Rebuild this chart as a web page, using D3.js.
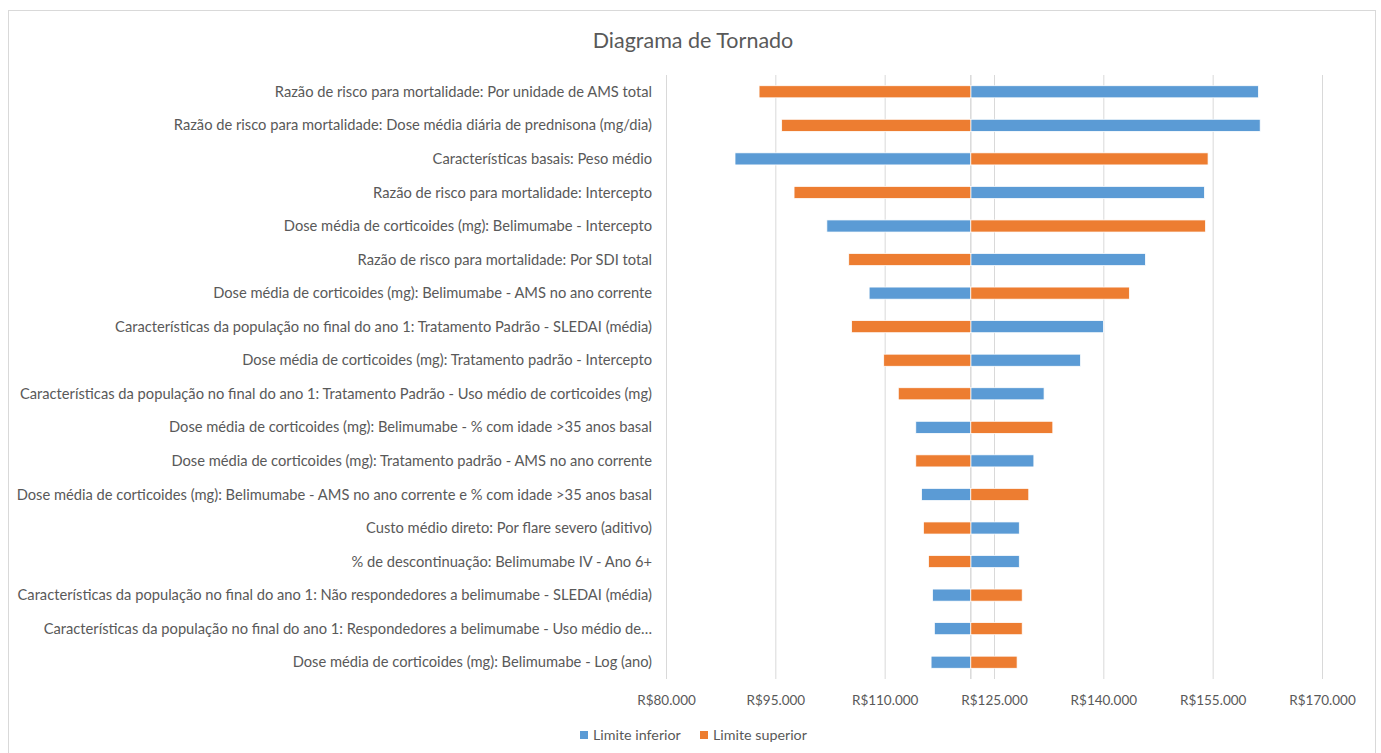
<!DOCTYPE html>
<html>
<head>
<meta charset="utf-8">
<script src="https://cdn.jsdelivr.net/npm/d3@7"></script>
<style>
  html, body { margin: 0; padding: 0; background: #fff; }
  svg { display: block; font-family: Lato, "Open Sans", sans-serif; }
</style>
</head>
<body>
<svg id="chart"></svg>
<script>
const width = 1381;
const height = 753;

// parameters (top to bottom, as drawn)
const parametros = [
  "Razão de risco para mortalidade: Por unidade de AMS total",
  "Razão de risco para mortalidade: Dose média diária de prednisona (mg/dia)",
  "Características basais: Peso médio",
  "Razão de risco para mortalidade: Intercepto",
  "Dose média de corticoides (mg): Belimumabe - Intercepto",
  "Razão de risco para mortalidade: Por SDI total",
  "Dose média de corticoides (mg): Belimumabe - AMS no ano corrente",
  "Características da população no final do ano 1: Tratamento Padrão - SLEDAI (média)",
  "Dose média de corticoides (mg): Tratamento padrão - Intercepto",
  "Características da população no final do ano 1: Tratamento Padrão - Uso médio de corticoides (mg)",
  "Dose média de corticoides (mg): Belimumabe - % com idade >35 anos basal",
  "Dose média de corticoides (mg): Tratamento padrão - AMS no ano corrente",
  "Dose média de corticoides (mg): Belimumabe - AMS no ano corrente e % com idade >35 anos basal",
  "Custo médio direto: Por flare severo (aditivo)",
  "% de descontinuação: Belimumabe IV - Ano 6+",
  "Características da população no final do ano 1: Não respondedores a belimumabe - SLEDAI (média)",
  "Características da população no final do ano 1: Respondedores a belimumabe - Uso médio de…",
  "Dose média de corticoides (mg): Belimumabe - Log (ano)"
];

// result (R$) for each parameter at its lower / upper limit
const limiteInferior = [161200, 161450, 89400, 153800, 102000, 145700, 107800, 139950, 136800,
  131800, 114200, 130400, 115000, 128400, 128400, 116500, 116750, 116300];
const limiteSuperior = [92700, 95800, 154300, 97500, 153950, 105000, 143500, 105400, 109800,
  111800, 133000, 114200, 129700, 115250, 115950, 128800, 128800, 128100];

const valorBase = 121750;
const ticks = [80000, 95000, 110000, 125000, 140000, 155000, 170000];

const series = [
  { nome: "Limite inferior", valores: limiteInferior, cor: "#5b9bd5" },
  { nome: "Limite superior", valores: limiteSuperior, cor: "#ed7d31" }
];

const svg = d3.select("#chart").attr("width", width).attr("height", height);

// chart frame
svg.append("rect")
  .attr("x", 8.5).attr("y", 10.5)
  .attr("width", 1367).attr("height", 760)
  .attr("fill", "#fff").attr("stroke", "#d9d9d9");

svg.append("text")
  .attr("x", 693).attr("y", 48)
  .attr("text-anchor", "middle")
  .attr("font-size", 21.5)
  .attr("fill", "#595959")
  .text("Diagrama de Tornado");

const x = d3.scaleLinear().domain([80000, 170000]).range([666.5, 1322.5]);
const y = d3.scaleBand().domain(parametros).range([75, 679]).paddingInner(0.64).paddingOuter(0.32);

const fmt = d => "R$" + d3.format(",")(d).replace(/,/g, ".");

// gridlines
svg.append("g")
  .selectAll("line")
  .data(ticks)
  .join("line")
  .attr("x1", d => x(d)).attr("x2", d => x(d))
  .attr("y1", 75).attr("y2", 679)
  .attr("stroke", "#d9d9d9")
  .attr("stroke-width", 1);

// tick labels
svg.append("g")
  .selectAll("text")
  .data(ticks)
  .join("text")
  .attr("x", d => x(d))
  .attr("y", 705)
  .attr("text-anchor", "middle")
  .attr("font-size", 13.5)
  .attr("fill", "#595959")
  .text(fmt);

// vertical axis at base value
svg.append("line")
  .attr("x1", x(valorBase)).attr("x2", x(valorBase))
  .attr("y1", 75).attr("y2", 679)
  .attr("stroke", "#d9d9d9")
  .attr("stroke-width", 1.5);

// bars
series.forEach(s => {
  svg.append("g")
    .selectAll("rect")
    .data(s.valores)
    .join("rect")
    .attr("x", d => x(Math.min(d, valorBase)))
    .attr("y", (d, i) => y(parametros[i]))
    .attr("width", d => Math.abs(x(d) - x(valorBase)))
    .attr("height", y.bandwidth())
    .attr("fill", s.cor)
    .attr("stroke", "#fff")
    .attr("stroke-width", 0.75);
});

// category labels
svg.append("g")
  .selectAll("text")
  .data(parametros)
  .join("text")
  .attr("x", 652)
  .attr("y", d => y(d) + y.bandwidth() / 2)
  .attr("dy", "0.35em")
  .attr("text-anchor", "end")
  .attr("font-size", 14.7)
  .attr("fill", "#595959")
  .text(d => d);

// legend
const legend = svg.append("g")
  .selectAll("g")
  .data(series)
  .join("g")
  .attr("transform", (d, i) => `translate(${580 + i * 120},735)`);

legend.append("rect")
  .attr("x", 0).attr("y", -4)
  .attr("width", 8).attr("height", 8)
  .attr("fill", d => d.cor);

legend.append("text")
  .attr("x", 13).attr("y", 0)
  .attr("dy", "0.35em")
  .attr("font-size", 14.3)
  .attr("fill", "#595959")
  .text(d => d.nome);
</script>
</body>
</html>
